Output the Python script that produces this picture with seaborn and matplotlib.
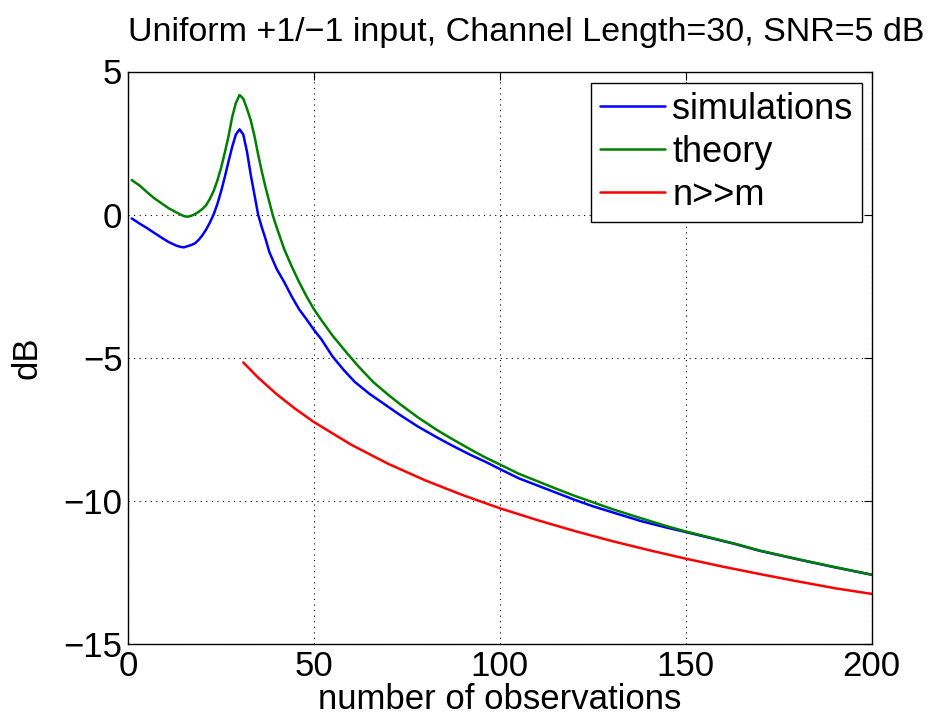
import numpy as np
import pandas as pd
import matplotlib
matplotlib.use("Agg")
import matplotlib.pyplot as plt
import seaborn as sns

# values
sim_x = [1, 3, 5, 7, 9, 11, 13, 14, 15, 16, 17, 18, 19, 20, 21, 22, 23, 24, 25, 26,
         27, 28, 29, 30, 31, 32, 33, 34, 35, 36, 37, 38, 40, 42, 44, 46, 48, 50, 52,
         55, 58, 61, 65, 69, 73, 78, 83, 87, 92, 96, 100, 105, 110, 115, 120, 125,
         130, 138, 145, 150, 163, 170, 181, 190, 200]
sim_db = [-0.13, -0.30, -0.46, -0.63, -0.80, -0.96, -1.08, -1.12, -1.14, -1.10,
          -1.06, -1.00, -0.88, -0.72, -0.52, -0.28, 0.00, 0.36, 0.80, 1.30,
          1.84, 2.36, 2.80, 2.98, 2.80, 2.20, 1.40, 0.70, 0.00, -0.45,
          -0.85, -1.30, -1.90, -2.35, -2.85, -3.30, -3.65, -4.02, -4.35,
          -4.95, -5.42, -5.84, -6.26, -6.62, -6.98, -7.40, -7.77, -8.05, -8.38,
          -8.62, -8.88, -9.20, -9.45, -9.70, -9.95, -10.18, -10.38, -10.70,
          -10.93, -11.08, -11.49, -11.74, -12.06, -12.31, -12.57]

theory_x = [1, 3, 5, 7, 9, 11, 13, 15, 16, 17, 18, 19, 20, 21, 22, 23, 24, 25, 26,
            27, 28, 29, 30, 31, 32, 33, 34, 35, 36, 37, 38, 39, 40, 42, 44, 46, 48,
            50, 52, 55, 59, 62, 66, 70, 73, 78, 83, 87, 92, 96, 100, 105, 110, 115,
            120, 125, 130, 138, 145, 150, 163, 170, 181, 190, 200]
theory_db = [1.21, 1.03, 0.80, 0.58, 0.40, 0.22, 0.08, -0.05, -0.07, -0.04, 0.02,
             0.10, 0.20, 0.33, 0.55, 0.82, 1.18, 1.62, 2.15, 2.72, 3.40, 3.90,
             4.18, 4.05, 3.70, 3.30, 2.75, 2.10, 1.50, 0.95, 0.45, -0.05, -0.45,
             -1.20, -1.80, -2.35, -2.85, -3.30, -3.68, -4.22, -4.85, -5.30, -5.85,
             -6.29, -6.60, -7.08, -7.51, -7.82, -8.19, -8.47, -8.72, -9.04, -9.30,
             -9.56, -9.81, -10.04, -10.27, -10.60, -10.88, -11.06, -11.48, -11.73,
             -12.05, -12.30, -12.57]

approx_x = [31, 35, 40, 45, 50, 60, 70, 80, 90, 100, 110, 120, 130, 140, 150, 160,
            170, 180, 190, 200]
approx_db = [-5.16, -5.69, -6.27, -6.78, -7.24, -8.03, -8.70, -9.28, -9.79, -10.25,
             -10.66, -11.04, -11.39, -11.71, -12.01, -12.29, -12.55, -12.80, -13.04,
             -13.24]

x_ticks = [0, 50, 100, 150, 200]
y_ticks = [-15, -10, -5, 0, 5]

sns.set_style("white")
plt.rcParams['font.family'] = ['Liberation Sans', 'DejaVu Sans']
plt.rcParams['text.color'] = 'black'
plt.rcParams['axes.labelcolor'] = 'black'
plt.rcParams['xtick.color'] = 'black'
plt.rcParams['ytick.color'] = 'black'

fig = plt.figure(figsize=(9.32, 7.27), dpi=100)
ax = fig.add_axes([128 / 932, 1 - 644.3 / 727, 743.7 / 932, 572.8 / 727])

sns.lineplot(x=sim_x, y=sim_db, color=(0, 0, 1), lw=1.8, label="simulations", ax=ax)
sns.lineplot(x=theory_x, y=theory_db, color=(0, 0.5, 0), lw=1.8, label="theory", ax=ax)
sns.lineplot(x=approx_x, y=approx_db, color=(1, 0, 0), lw=1.8, label="n>>m", ax=ax)

ax.set_xlim(0, 200)
ax.set_ylim(-15, 5)
ax.set_xticks(x_ticks)
ax.set_yticks(y_ticks)
ax.set_yticklabels([str(v).replace('-', '\u2212') for v in y_ticks])
ax.tick_params(direction='in', top=True, right=True, labelsize=25, length=6,
               width=0.8, colors='black', pad=4)
ax.grid(True, linestyle=(0, (1, 4)), color='black', lw=0.8)
for s in ax.spines.values():
    s.set_color('black')
    s.set_linewidth(1.0)

ax.set_xlabel("number of observations", fontsize=25, labelpad=0)
ax.set_ylabel("dB", fontsize=25, labelpad=14)
fig.text(526 / 932, 1 - 33 / 727, "Uniform +1/\u22121 input, Channel Length=30, SNR=5 dB",
         ha='center', va='center', fontsize=24.5)

leg = ax.legend(loc='upper right', bbox_to_anchor=(0.9866, 0.9804), borderaxespad=0,
                fontsize=26, fancybox=False, framealpha=1, edgecolor='black',
                handlelength=1.8, handletextpad=0.2, labelspacing=0.22,
                borderpad=0.25)
leg.get_frame().set_linewidth(1.0)

fig.savefig("out.png", dpi=100)
